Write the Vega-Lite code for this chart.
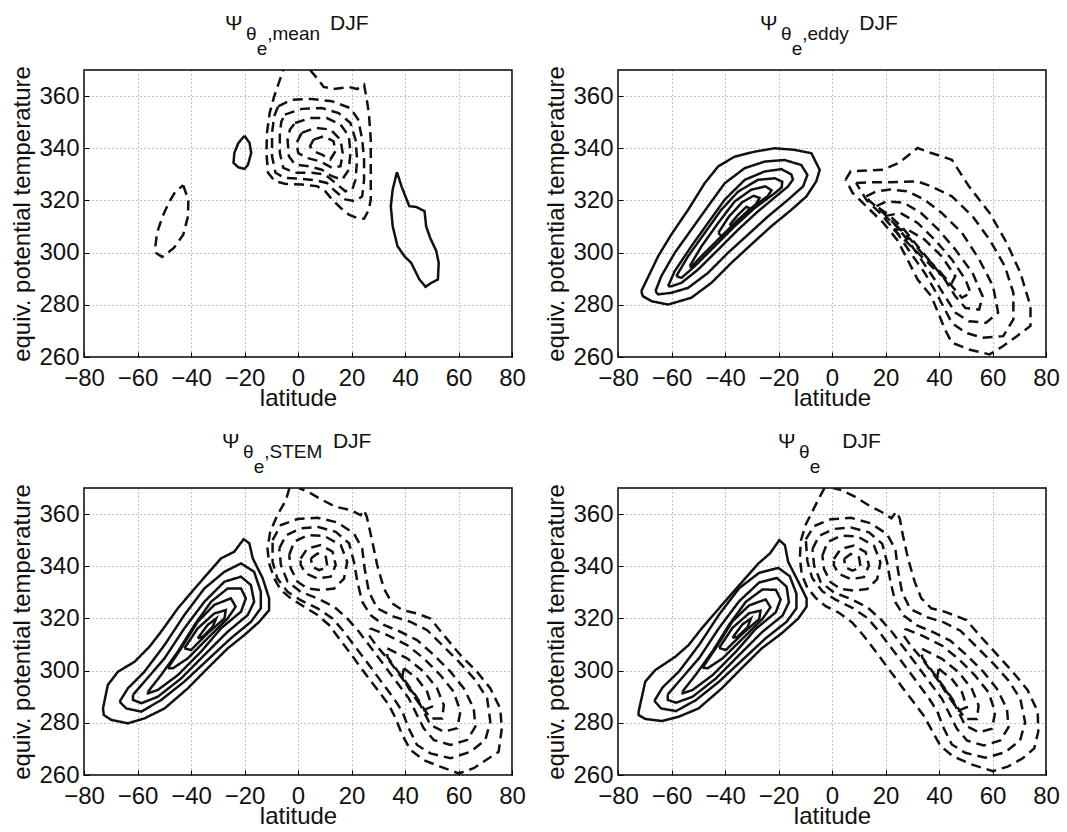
{
"$schema": "https://vega.github.io/schema/vega-lite/v6.json",
"padding": {"left": 10, "top": 11, "right": 0, "bottom": 0},
"columns": 2,
"spacing": {"row": 131, "column": 106},
"bounds": "flush",
"datasets": {
"p1": [
{"c":1,"s":"n","x":-42.9,"y":325.8},{"c":1,"s":"n","x":-41.0,"y":320.3},{"c":1,"s":"n","x":-41.1,"y":314.0},{"c":1,"s":"n","x":-42.9,"y":306.9},{"c":1,"s":"n","x":-46.4,"y":301.8},{"c":1,"s":"n","x":-50.8,"y":298.3},{"c":1,"s":"n","x":-53.1,"y":299.9},{"c":1,"s":"n","x":-53.3,"y":302.5},{"c":1,"s":"n","x":-52.7,"y":307.6},{"c":1,"s":"n","x":-50.6,"y":314.0},{"c":1,"s":"n","x":-48.3,"y":319.1},{"c":1,"s":"n","x":-45.8,"y":323.5},{"c":1,"s":"n","x":-42.9,"y":325.8},
{"c":2,"s":"p","x":-20.0,"y":344.8},{"c":2,"s":"p","x":-18.1,"y":342.0},{"c":2,"s":"p","x":-17.5,"y":338.2},{"c":2,"s":"p","x":-18.7,"y":333.7},{"c":2,"s":"p","x":-20.0,"y":332.1},{"c":2,"s":"p","x":-22.3,"y":332.7},{"c":2,"s":"p","x":-24.1,"y":334.4},{"c":2,"s":"p","x":-23.8,"y":338.2},{"c":2,"s":"p","x":-22.3,"y":342.0},{"c":2,"s":"p","x":-20.0,"y":344.8},
{"c":3,"s":"p","x":37.0,"y":330.9},{"c":3,"s":"p","x":38.7,"y":325.4},{"c":3,"s":"p","x":41.6,"y":317.8},{"c":3,"s":"p","x":44.2,"y":317.5},{"c":3,"s":"p","x":47.3,"y":315.9},{"c":3,"s":"p","x":47.9,"y":310.1},{"c":3,"s":"p","x":49.4,"y":305.7},{"c":3,"s":"p","x":51.7,"y":300.6},{"c":3,"s":"p","x":52.6,"y":296.1},{"c":3,"s":"p","x":52.3,"y":289.7},{"c":3,"s":"p","x":49.8,"y":288.4},{"c":3,"s":"p","x":47.7,"y":286.9},{"c":3,"s":"p","x":45.4,"y":289.7},{"c":3,"s":"p","x":42.3,"y":296.1},{"c":3,"s":"p","x":39.8,"y":298.6},{"c":3,"s":"p","x":37.2,"y":302.5},{"c":3,"s":"p","x":35.4,"y":310.1},{"c":3,"s":"p","x":34.7,"y":317.8},{"c":3,"s":"p","x":35.4,"y":324.2},{"c":3,"s":"p","x":37.0,"y":330.9},
{"c":4,"s":"n","x":4.5,"y":370.0},{"c":4,"s":"n","x":7.1,"y":366.9},{"c":4,"s":"n","x":9.6,"y":363.5},{"c":4,"s":"n","x":13.3,"y":362.7},{"c":4,"s":"n","x":19.0,"y":363.5},{"c":4,"s":"n","x":22.1,"y":362.7},{"c":4,"s":"n","x":24.7,"y":364.4},{"c":4,"s":"n","x":25.5,"y":359.9},{"c":4,"s":"n","x":26.5,"y":353.5},{"c":4,"s":"n","x":27.2,"y":343.3},{"c":4,"s":"n","x":27.2,"y":330.6},{"c":4,"s":"n","x":27.2,"y":320.4},{"c":4,"s":"n","x":26.5,"y":316.5},{"c":4,"s":"n","x":24.7,"y":313.0},{"c":4,"s":"n","x":22.1,"y":313.3},{"c":4,"s":"n","x":19.0,"y":314.6},{"c":4,"s":"n","x":15.9,"y":317.2},{"c":4,"s":"n","x":12.7,"y":320.4},{"c":4,"s":"n","x":10.2,"y":323.5},{"c":4,"s":"n","x":7.1,"y":325.5},{"c":4,"s":"n","x":1.4,"y":326.1},{"c":4,"s":"n","x":-4.9,"y":326.4},{"c":4,"s":"n","x":-8.7,"y":327.4},{"c":4,"s":"n","x":-11.2,"y":330.6},{"c":4,"s":"n","x":-11.8,"y":338.2},{"c":4,"s":"n","x":-11.6,"y":345.9},{"c":4,"s":"n","x":-10.6,"y":353.5},{"c":4,"s":"n","x":-8.9,"y":359.9},{"c":4,"s":"n","x":-7.4,"y":364.4},{"c":4,"s":"n","x":-5.5,"y":370.0},
{"c":5,"s":"n","x":-7.4,"y":356.1},{"c":5,"s":"n","x":-2.4,"y":358.6},{"c":5,"s":"n","x":5.2,"y":358.9},{"c":5,"s":"n","x":12.7,"y":358.0},{"c":5,"s":"n","x":19.6,"y":355.4},{"c":5,"s":"n","x":22.5,"y":351.0},{"c":5,"s":"n","x":24.0,"y":343.3},{"c":5,"s":"n","x":24.7,"y":335.7},{"c":5,"s":"n","x":24.7,"y":328.0},{"c":5,"s":"n","x":24.0,"y":321.6},{"c":5,"s":"n","x":21.5,"y":319.7},{"c":5,"s":"n","x":17.7,"y":320.4},{"c":5,"s":"n","x":14.0,"y":323.5},{"c":5,"s":"n","x":10.8,"y":326.7},{"c":5,"s":"n","x":6.4,"y":327.8},{"c":5,"s":"n","x":0.1,"y":328.4},{"c":5,"s":"n","x":-4.9,"y":328.6},{"c":5,"s":"n","x":-8.4,"y":330.6},{"c":5,"s":"n","x":-9.7,"y":336.9},{"c":5,"s":"n","x":-9.7,"y":345.9},{"c":5,"s":"n","x":-8.9,"y":352.3},{"c":5,"s":"n","x":-7.4,"y":356.1},
{"c":6,"s":"n","x":-4.9,"y":352.9},{"c":6,"s":"n","x":1.4,"y":355.1},{"c":6,"s":"n","x":8.9,"y":355.4},{"c":6,"s":"n","x":15.2,"y":353.5},{"c":6,"s":"n","x":19.6,"y":349.7},{"c":6,"s":"n","x":21.5,"y":343.3},{"c":6,"s":"n","x":22.1,"y":335.7},{"c":6,"s":"n","x":21.5,"y":328.0},{"c":6,"s":"n","x":20.3,"y":324.2},{"c":6,"s":"n","x":17.7,"y":323.5},{"c":6,"s":"n","x":14.0,"y":326.7},{"c":6,"s":"n","x":10.2,"y":329.9},{"c":6,"s":"n","x":5.2,"y":330.6},{"c":6,"s":"n","x":-1.1,"y":330.6},{"c":6,"s":"n","x":-5.5,"y":332.5},{"c":6,"s":"n","x":-6.8,"y":338.2},{"c":6,"s":"n","x":-6.8,"y":345.9},{"c":6,"s":"n","x":-6.2,"y":350.3},{"c":6,"s":"n","x":-4.9,"y":352.9},
{"c":7,"s":"n","x":-1.1,"y":349.7},{"c":7,"s":"n","x":4.5,"y":351.6},{"c":7,"s":"n","x":10.8,"y":351.6},{"c":7,"s":"n","x":15.9,"y":349.1},{"c":7,"s":"n","x":19.0,"y":344.6},{"c":7,"s":"n","x":19.6,"y":338.2},{"c":7,"s":"n","x":19.0,"y":331.8},{"c":7,"s":"n","x":16.5,"y":328.0},{"c":7,"s":"n","x":12.7,"y":329.3},{"c":7,"s":"n","x":8.9,"y":331.8},{"c":7,"s":"n","x":3.9,"y":333.1},{"c":7,"s":"n","x":-1.1,"y":333.8},{"c":7,"s":"n","x":-3.4,"y":336.9},{"c":7,"s":"n","x":-3.9,"y":343.3},{"c":7,"s":"n","x":-3.0,"y":347.2},{"c":7,"s":"n","x":-1.1,"y":349.7},
{"c":8,"s":"n","x":1.4,"y":345.9},{"c":8,"s":"n","x":6.4,"y":347.8},{"c":8,"s":"n","x":12.1,"y":347.2},{"c":8,"s":"n","x":15.9,"y":343.3},{"c":8,"s":"n","x":16.7,"y":338.2},{"c":8,"s":"n","x":15.9,"y":333.1},{"c":8,"s":"n","x":12.7,"y":332.5},{"c":8,"s":"n","x":8.3,"y":335.0},{"c":8,"s":"n","x":3.3,"y":336.3},{"c":8,"s":"n","x":0.1,"y":338.2},{"c":8,"s":"n","x":-0.6,"y":342.0},{"c":8,"s":"n","x":1.4,"y":345.9},
{"c":9,"s":"n","x":5.8,"y":343.3},{"c":9,"s":"n","x":9.6,"y":344.6},{"c":9,"s":"n","x":13.3,"y":342.7},{"c":9,"s":"n","x":14.0,"y":338.9},{"c":9,"s":"n","x":12.1,"y":335.7},{"c":9,"s":"n","x":8.9,"y":337.6},{"c":9,"s":"n","x":5.8,"y":338.9},{"c":9,"s":"n","x":4.5,"y":340.8},{"c":9,"s":"n","x":5.8,"y":343.3}
],
"p2": [
{"c":1,"s":"p","x":-71.3,"y":285.2},{"c":1,"s":"p","x":-69.8,"y":288.4},{"c":1,"s":"p","x":-65.0,"y":298.6},{"c":1,"s":"p","x":-60.1,"y":306.9},{"c":1,"s":"p","x":-53.8,"y":316.4},{"c":1,"s":"p","x":-47.6,"y":326.6},{"c":1,"s":"p","x":-42.6,"y":333.0},{"c":1,"s":"p","x":-36.4,"y":336.8},{"c":1,"s":"p","x":-28.9,"y":338.7},{"c":1,"s":"p","x":-21.4,"y":340.0},{"c":1,"s":"p","x":-14.0,"y":339.4},{"c":1,"s":"p","x":-7.7,"y":338.1},{"c":1,"s":"p","x":-4.6,"y":331.7},{"c":1,"s":"p","x":-5.9,"y":327.3},{"c":1,"s":"p","x":-9.6,"y":321.5},{"c":1,"s":"p","x":-15.2,"y":316.4},{"c":1,"s":"p","x":-22.7,"y":310.1},{"c":1,"s":"p","x":-30.2,"y":303.1},{"c":1,"s":"p","x":-37.6,"y":296.1},{"c":1,"s":"p","x":-45.1,"y":288.4},{"c":1,"s":"p","x":-52.6,"y":282.7},{"c":1,"s":"p","x":-61.3,"y":280.1},{"c":1,"s":"p","x":-67.5,"y":281.4},{"c":1,"s":"p","x":-70.7,"y":283.3},{"c":1,"s":"p","x":-71.3,"y":285.2},
{"c":2,"s":"p","x":-66.0,"y":285.2},{"c":2,"s":"p","x":-63.8,"y":291.0},{"c":2,"s":"p","x":-58.8,"y":299.9},{"c":2,"s":"p","x":-52.6,"y":308.8},{"c":2,"s":"p","x":-46.4,"y":317.7},{"c":2,"s":"p","x":-40.1,"y":326.6},{"c":2,"s":"p","x":-32.6,"y":332.4},{"c":2,"s":"p","x":-25.2,"y":334.9},{"c":2,"s":"p","x":-17.7,"y":335.5},{"c":2,"s":"p","x":-11.5,"y":333.6},{"c":2,"s":"p","x":-9.2,"y":329.8},{"c":2,"s":"p","x":-10.8,"y":325.4},{"c":2,"s":"p","x":-16.4,"y":320.3},{"c":2,"s":"p","x":-23.9,"y":313.9},{"c":2,"s":"p","x":-31.4,"y":306.9},{"c":2,"s":"p","x":-38.9,"y":299.9},{"c":2,"s":"p","x":-46.4,"y":292.2},{"c":2,"s":"p","x":-53.8,"y":286.5},{"c":2,"s":"p","x":-60.1,"y":284.6},{"c":2,"s":"p","x":-65.0,"y":284.0},{"c":2,"s":"p","x":-66.0,"y":285.2},
{"c":3,"s":"p","x":-61.3,"y":287.1},{"c":3,"s":"p","x":-58.8,"y":292.9},{"c":3,"s":"p","x":-52.6,"y":302.4},{"c":3,"s":"p","x":-46.4,"y":311.3},{"c":3,"s":"p","x":-40.1,"y":320.3},{"c":3,"s":"p","x":-32.6,"y":327.9},{"c":3,"s":"p","x":-25.2,"y":331.1},{"c":3,"s":"p","x":-18.9,"y":332.0},{"c":3,"s":"p","x":-15.2,"y":330.0},{"c":3,"s":"p","x":-14.6,"y":328.0},{"c":3,"s":"p","x":-16.5,"y":325.3},{"c":3,"s":"p","x":-20.2,"y":322.2},{"c":3,"s":"p","x":-27.7,"y":315.8},{"c":3,"s":"p","x":-35.1,"y":308.8},{"c":3,"s":"p","x":-42.6,"y":301.1},{"c":3,"s":"p","x":-50.1,"y":293.5},{"c":3,"s":"p","x":-56.3,"y":288.4},{"c":3,"s":"p","x":-60.1,"y":287.1},{"c":3,"s":"p","x":-61.3,"y":287.1},
{"c":4,"s":"p","x":-58.2,"y":291.0},{"c":4,"s":"p","x":-53.8,"y":298.6},{"c":4,"s":"p","x":-47.6,"y":307.5},{"c":4,"s":"p","x":-41.4,"y":316.4},{"c":4,"s":"p","x":-35.1,"y":323.4},{"c":4,"s":"p","x":-27.7,"y":327.9},{"c":4,"s":"p","x":-21.4,"y":328.5},{"c":4,"s":"p","x":-18.6,"y":327.2},{"c":4,"s":"p","x":-18.8,"y":325.0},{"c":4,"s":"p","x":-21.4,"y":322.8},{"c":4,"s":"p","x":-28.9,"y":317.1},{"c":4,"s":"p","x":-36.4,"y":310.1},{"c":4,"s":"p","x":-43.9,"y":302.4},{"c":4,"s":"p","x":-51.3,"y":294.8},{"c":4,"s":"p","x":-56.3,"y":290.3},{"c":4,"s":"p","x":-58.2,"y":291.0},
{"c":5,"s":"p","x":-53.2,"y":294.8},{"c":5,"s":"p","x":-48.8,"y":302.4},{"c":5,"s":"p","x":-42.6,"y":311.3},{"c":5,"s":"p","x":-36.4,"y":319.6},{"c":5,"s":"p","x":-30.2,"y":324.1},{"c":5,"s":"p","x":-24.9,"y":325.4},{"c":5,"s":"p","x":-22.6,"y":323.9},{"c":5,"s":"p","x":-24.1,"y":321.6},{"c":5,"s":"p","x":-27.7,"y":319.0},{"c":5,"s":"p","x":-35.1,"y":312.6},{"c":5,"s":"p","x":-42.6,"y":305.0},{"c":5,"s":"p","x":-50.1,"y":297.3},{"c":5,"s":"p","x":-52.6,"y":294.4},{"c":5,"s":"p","x":-53.2,"y":294.8},
{"c":6,"s":"p","x":-42.5,"y":307.6},{"c":6,"s":"p","x":-38.6,"y":313.7},{"c":6,"s":"p","x":-33.6,"y":319.3},{"c":6,"s":"p","x":-29.3,"y":321.8},{"c":6,"s":"p","x":-27.1,"y":321.0},{"c":6,"s":"p","x":-28.4,"y":318.6},{"c":6,"s":"p","x":-32.4,"y":315.1},{"c":6,"s":"p","x":-37.4,"y":310.1},{"c":6,"s":"p","x":-41.1,"y":306.1},{"c":6,"s":"p","x":-42.5,"y":307.6},
{"c":7,"s":"p","x":-38.3,"y":310.6},{"c":7,"s":"p","x":-35.1,"y":314.5},{"c":7,"s":"p","x":-32.0,"y":317.6},{"c":7,"s":"p","x":-30.8,"y":317.0},{"c":7,"s":"p","x":-32.8,"y":314.0},{"c":7,"s":"p","x":-36.5,"y":310.4},{"c":7,"s":"p","x":-38.3,"y":310.6},
{"c":8,"s":"n","x":5.1,"y":328.0},{"c":8,"s":"n","x":7.0,"y":331.2},{"c":8,"s":"n","x":19.2,"y":331.8},{"c":8,"s":"n","x":25.0,"y":334.4},{"c":8,"s":"n","x":32.0,"y":340.1},{"c":8,"s":"n","x":37.1,"y":338.2},{"c":8,"s":"n","x":44.8,"y":335.6},{"c":8,"s":"n","x":51.2,"y":325.4},{"c":8,"s":"n","x":58.9,"y":315.2},{"c":8,"s":"n","x":65.3,"y":303.8},{"c":8,"s":"n","x":70.4,"y":292.3},{"c":8,"s":"n","x":74.2,"y":279.5},{"c":8,"s":"n","x":74.2,"y":271.9},{"c":8,"s":"n","x":69.1,"y":268.0},{"c":8,"s":"n","x":64.0,"y":264.2},{"c":8,"s":"n","x":58.9,"y":261.0},{"c":8,"s":"n","x":51.2,"y":262.9},{"c":8,"s":"n","x":44.8,"y":265.5},{"c":8,"s":"n","x":42.2,"y":270.6},{"c":8,"s":"n","x":39.7,"y":277.0},{"c":8,"s":"n","x":37.1,"y":283.3},{"c":8,"s":"n","x":32.0,"y":289.7},{"c":8,"s":"n","x":28.2,"y":297.4},{"c":8,"s":"n","x":24.3,"y":305.0},{"c":8,"s":"n","x":19.2,"y":311.4},{"c":8,"s":"n","x":12.8,"y":317.8},{"c":8,"s":"n","x":7.7,"y":322.9},{"c":8,"s":"n","x":5.1,"y":328.0},
{"c":9,"s":"n","x":9.0,"y":326.7},{"c":9,"s":"n","x":15.4,"y":327.0},{"c":9,"s":"n","x":21.8,"y":327.0},{"c":9,"s":"n","x":32.0,"y":327.3},{"c":9,"s":"n","x":37.1,"y":325.4},{"c":9,"s":"n","x":44.8,"y":321.6},{"c":9,"s":"n","x":52.5,"y":314.0},{"c":9,"s":"n","x":58.9,"y":305.0},{"c":9,"s":"n","x":64.6,"y":294.8},{"c":9,"s":"n","x":67.8,"y":284.6},{"c":9,"s":"n","x":67.8,"y":274.4},{"c":9,"s":"n","x":64.0,"y":268.0},{"c":9,"s":"n","x":56.3,"y":267.4},{"c":9,"s":"n","x":49.9,"y":269.3},{"c":9,"s":"n","x":44.8,"y":273.1},{"c":9,"s":"n","x":42.2,"y":278.2},{"c":9,"s":"n","x":39.0,"y":284.6},{"c":9,"s":"n","x":34.6,"y":292.3},{"c":9,"s":"n","x":29.4,"y":299.9},{"c":9,"s":"n","x":24.3,"y":307.6},{"c":9,"s":"n","x":17.9,"y":315.2},{"c":9,"s":"n","x":12.8,"y":320.3},{"c":9,"s":"n","x":9.0,"y":326.7},
{"c":10,"s":"n","x":12.8,"y":321.6},{"c":10,"s":"n","x":16.6,"y":323.5},{"c":10,"s":"n","x":21.8,"y":324.2},{"c":10,"s":"n","x":28.2,"y":323.5},{"c":10,"s":"n","x":34.6,"y":320.3},{"c":10,"s":"n","x":41.0,"y":315.2},{"c":10,"s":"n","x":48.6,"y":307.6},{"c":10,"s":"n","x":55.0,"y":297.4},{"c":10,"s":"n","x":60.2,"y":287.2},{"c":10,"s":"n","x":62.1,"y":277.0},{"c":10,"s":"n","x":57.6,"y":273.1},{"c":10,"s":"n","x":51.2,"y":273.7},{"c":10,"s":"n","x":46.1,"y":277.0},{"c":10,"s":"n","x":42.2,"y":283.3},{"c":10,"s":"n","x":38.4,"y":289.7},{"c":10,"s":"n","x":33.3,"y":297.4},{"c":10,"s":"n","x":28.2,"y":305.0},{"c":10,"s":"n","x":23.0,"y":311.4},{"c":10,"s":"n","x":17.9,"y":316.5},{"c":10,"s":"n","x":14.1,"y":319.7},{"c":10,"s":"n","x":12.8,"y":321.6},
{"c":11,"s":"n","x":16.6,"y":317.8},{"c":11,"s":"n","x":20.5,"y":319.7},{"c":11,"s":"n","x":26.9,"y":319.1},{"c":11,"s":"n","x":33.3,"y":315.2},{"c":11,"s":"n","x":39.7,"y":308.9},{"c":11,"s":"n","x":46.1,"y":301.2},{"c":11,"s":"n","x":52.5,"y":292.3},{"c":11,"s":"n","x":56.3,"y":283.3},{"c":11,"s":"n","x":55.0,"y":278.2},{"c":11,"s":"n","x":49.9,"y":278.8},{"c":11,"s":"n","x":46.1,"y":283.3},{"c":11,"s":"n","x":42.2,"y":289.7},{"c":11,"s":"n","x":37.1,"y":296.1},{"c":11,"s":"n","x":32.0,"y":302.5},{"c":11,"s":"n","x":26.9,"y":308.9},{"c":11,"s":"n","x":21.8,"y":314.0},{"c":11,"s":"n","x":16.6,"y":317.8},
{"c":12,"s":"n","x":19.8,"y":314.0},{"c":12,"s":"n","x":25.6,"y":315.2},{"c":12,"s":"n","x":32.0,"y":311.4},{"c":12,"s":"n","x":38.4,"y":305.0},{"c":12,"s":"n","x":44.8,"y":297.4},{"c":12,"s":"n","x":49.9,"y":289.7},{"c":12,"s":"n","x":51.8,"y":284.6},{"c":12,"s":"n","x":48.6,"y":282.7},{"c":12,"s":"n","x":44.8,"y":287.2},{"c":12,"s":"n","x":39.7,"y":293.5},{"c":12,"s":"n","x":34.6,"y":298.6},{"c":12,"s":"n","x":29.4,"y":305.0},{"c":12,"s":"n","x":24.3,"y":310.1},{"c":12,"s":"n","x":19.8,"y":314.0},
{"c":13,"s":"n","x":23.0,"y":308.9},{"c":13,"s":"n","x":28.2,"y":308.9},{"c":13,"s":"n","x":34.6,"y":305.0},{"c":13,"s":"n","x":41.0,"y":298.6},{"c":13,"s":"n","x":46.1,"y":291.0},{"c":13,"s":"n","x":44.8,"y":288.4},{"c":13,"s":"n","x":39.7,"y":292.3},{"c":13,"s":"n","x":34.6,"y":297.4},{"c":13,"s":"n","x":28.2,"y":303.8},{"c":13,"s":"n","x":23.0,"y":308.9}
],
"p3": [
{"c":1,"s":"p","x":-72.9,"y":285.5},{"c":1,"s":"p","x":-71.1,"y":294.5},{"c":1,"s":"p","x":-67.3,"y":299.6},{"c":1,"s":"p","x":-61.1,"y":303.4},{"c":1,"s":"p","x":-55.5,"y":309.2},{"c":1,"s":"p","x":-51.2,"y":314.9},{"c":1,"s":"p","x":-44.9,"y":323.9},{"c":1,"s":"p","x":-37.5,"y":332.8},{"c":1,"s":"p","x":-28.8,"y":343.0},{"c":1,"s":"p","x":-23.8,"y":345.6},{"c":1,"s":"p","x":-20.3,"y":350.4},{"c":1,"s":"p","x":-18.2,"y":348.8},{"c":1,"s":"p","x":-16.9,"y":343.0},{"c":1,"s":"p","x":-13.2,"y":335.4},{"c":1,"s":"p","x":-10.8,"y":327.7},{"c":1,"s":"p","x":-10.8,"y":323.2},{"c":1,"s":"p","x":-14.5,"y":318.7},{"c":1,"s":"p","x":-20.1,"y":313.6},{"c":1,"s":"p","x":-26.3,"y":308.5},{"c":1,"s":"p","x":-33.8,"y":300.9},{"c":1,"s":"p","x":-41.2,"y":293.2},{"c":1,"s":"p","x":-49.9,"y":285.5},{"c":1,"s":"p","x":-57.4,"y":281.7},{"c":1,"s":"p","x":-63.6,"y":279.8},{"c":1,"s":"p","x":-69.8,"y":281.1},{"c":1,"s":"p","x":-72.6,"y":283.0},{"c":1,"s":"p","x":-72.9,"y":285.5},
{"c":2,"s":"p","x":-66.7,"y":288.1},{"c":2,"s":"p","x":-63.6,"y":293.2},{"c":2,"s":"p","x":-57.4,"y":299.6},{"c":2,"s":"p","x":-49.9,"y":309.8},{"c":2,"s":"p","x":-42.5,"y":321.3},{"c":2,"s":"p","x":-35.0,"y":331.5},{"c":2,"s":"p","x":-27.5,"y":337.9},{"c":2,"s":"p","x":-21.3,"y":341.1},{"c":2,"s":"p","x":-16.4,"y":337.9},{"c":2,"s":"p","x":-13.9,"y":330.2},{"c":2,"s":"p","x":-13.9,"y":323.9},{"c":2,"s":"p","x":-17.6,"y":318.7},{"c":2,"s":"p","x":-25.1,"y":312.4},{"c":2,"s":"p","x":-33.8,"y":304.1},{"c":2,"s":"p","x":-42.5,"y":295.8},{"c":2,"s":"p","x":-51.2,"y":288.7},{"c":2,"s":"p","x":-58.6,"y":284.3},{"c":2,"s":"p","x":-64.2,"y":285.5},{"c":2,"s":"p","x":-66.7,"y":288.1},
{"c":3,"s":"p","x":-61.7,"y":290.7},{"c":3,"s":"p","x":-57.4,"y":295.8},{"c":3,"s":"p","x":-49.9,"y":304.7},{"c":3,"s":"p","x":-42.5,"y":316.2},{"c":3,"s":"p","x":-35.0,"y":326.4},{"c":3,"s":"p","x":-27.5,"y":334.1},{"c":3,"s":"p","x":-21.3,"y":336.0},{"c":3,"s":"p","x":-17.6,"y":332.8},{"c":3,"s":"p","x":-16.4,"y":326.4},{"c":3,"s":"p","x":-18.8,"y":321.3},{"c":3,"s":"p","x":-26.3,"y":314.9},{"c":3,"s":"p","x":-35.0,"y":306.0},{"c":3,"s":"p","x":-43.7,"y":297.0},{"c":3,"s":"p","x":-52.4,"y":290.0},{"c":3,"s":"p","x":-58.6,"y":287.5},{"c":3,"s":"p","x":-61.7,"y":288.8},{"c":3,"s":"p","x":-61.7,"y":290.7},
{"c":4,"s":"p","x":-56.1,"y":291.9},{"c":4,"s":"p","x":-51.2,"y":298.3},{"c":4,"s":"p","x":-44.9,"y":307.3},{"c":4,"s":"p","x":-38.7,"y":317.5},{"c":4,"s":"p","x":-32.5,"y":326.4},{"c":4,"s":"p","x":-26.3,"y":331.5},{"c":4,"s":"p","x":-21.3,"y":331.5},{"c":4,"s":"p","x":-19.5,"y":327.7},{"c":4,"s":"p","x":-21.3,"y":322.6},{"c":4,"s":"p","x":-28.8,"y":316.2},{"c":4,"s":"p","x":-36.2,"y":307.3},{"c":4,"s":"p","x":-44.9,"y":298.3},{"c":4,"s":"p","x":-52.4,"y":292.6},{"c":4,"s":"p","x":-56.1,"y":291.3},{"c":4,"s":"p","x":-56.1,"y":291.9},
{"c":5,"s":"p","x":-48.7,"y":300.9},{"c":5,"s":"p","x":-43.7,"y":308.5},{"c":5,"s":"p","x":-37.5,"y":318.7},{"c":5,"s":"p","x":-31.3,"y":325.2},{"c":5,"s":"p","x":-25.1,"y":327.7},{"c":5,"s":"p","x":-23.3,"y":324.5},{"c":5,"s":"p","x":-26.3,"y":320.0},{"c":5,"s":"p","x":-33.8,"y":312.4},{"c":5,"s":"p","x":-41.2,"y":304.7},{"c":5,"s":"p","x":-46.8,"y":300.9},{"c":5,"s":"p","x":-48.7,"y":300.9},
{"c":6,"s":"p","x":-42.5,"y":308.5},{"c":6,"s":"p","x":-37.5,"y":316.2},{"c":6,"s":"p","x":-31.3,"y":321.9},{"c":6,"s":"p","x":-27.0,"y":323.2},{"c":6,"s":"p","x":-27.5,"y":320.0},{"c":6,"s":"p","x":-33.8,"y":314.3},{"c":6,"s":"p","x":-40.0,"y":307.9},{"c":6,"s":"p","x":-42.5,"y":308.5},
{"c":7,"s":"p","x":-37.5,"y":312.4},{"c":7,"s":"p","x":-33.8,"y":317.5},{"c":7,"s":"p","x":-30.6,"y":320.0},{"c":7,"s":"p","x":-31.9,"y":316.8},{"c":7,"s":"p","x":-35.6,"y":313.0},{"c":7,"s":"p","x":-37.5,"y":312.4},
{"c":8,"s":"n","x":-3.2,"y":370.0},{"c":8,"s":"n","x":-4.5,"y":365.4},{"c":8,"s":"n","x":-7.7,"y":359.6},{"c":8,"s":"n","x":-10.4,"y":353.2},{"c":8,"s":"n","x":-11.4,"y":346.8},{"c":8,"s":"n","x":-10.8,"y":341.1},{"c":8,"s":"n","x":-8.9,"y":335.4},{"c":8,"s":"n","x":-6.4,"y":330.9},{"c":8,"s":"n","x":-2.7,"y":327.7},{"c":8,"s":"n","x":2.3,"y":324.5},{"c":8,"s":"n","x":7.3,"y":321.3},{"c":8,"s":"n","x":11.6,"y":317.5},{"c":8,"s":"n","x":15.3,"y":312.4},{"c":8,"s":"n","x":19.1,"y":307.3},{"c":8,"s":"n","x":22.8,"y":302.1},{"c":8,"s":"n","x":26.5,"y":297.0},{"c":8,"s":"n","x":30.3,"y":291.9},{"c":8,"s":"n","x":34.0,"y":286.8},{"c":8,"s":"n","x":36.5,"y":281.7},{"c":8,"s":"n","x":39.0,"y":275.3},{"c":8,"s":"n","x":42.1,"y":269.6},{"c":8,"s":"n","x":47.0,"y":265.7},{"c":8,"s":"n","x":53.2,"y":263.2},{"c":8,"s":"n","x":60.1,"y":260.6},{"c":8,"s":"n","x":65.7,"y":262.6},{"c":8,"s":"n","x":71.3,"y":266.4},{"c":8,"s":"n","x":75.0,"y":268.9},{"c":8,"s":"n","x":76.2,"y":277.9},{"c":8,"s":"n","x":75.6,"y":285.5},{"c":8,"s":"n","x":71.9,"y":293.2},{"c":8,"s":"n","x":66.9,"y":299.6},{"c":8,"s":"n","x":60.7,"y":306.0},{"c":8,"s":"n","x":54.5,"y":313.6},{"c":8,"s":"n","x":49.5,"y":320.0},{"c":8,"s":"n","x":44.5,"y":321.9},{"c":8,"s":"n","x":39.0,"y":323.2},{"c":8,"s":"n","x":35.2,"y":325.8},{"c":8,"s":"n","x":32.1,"y":331.5},{"c":8,"s":"n","x":29.6,"y":340.5},{"c":8,"s":"n","x":27.8,"y":349.4},{"c":8,"s":"n","x":25.7,"y":359.0},{"c":8,"s":"n","x":24.7,"y":361.5},{"c":8,"s":"n","x":23.4,"y":359.6},{"c":8,"s":"n","x":19.7,"y":361.5},{"c":8,"s":"n","x":14.1,"y":362.8},{"c":8,"s":"n","x":9.1,"y":365.4},{"c":8,"s":"n","x":4.8,"y":367.9},{"c":8,"s":"n","x":0.4,"y":370.0},
{"c":9,"s":"n","x":-9.5,"y":350.0},{"c":9,"s":"n","x":-6.4,"y":355.8},{"c":9,"s":"n","x":-0.2,"y":358.1},{"c":9,"s":"n","x":7.3,"y":358.6},{"c":9,"s":"n","x":14.7,"y":356.8},{"c":9,"s":"n","x":20.9,"y":352.6},{"c":9,"s":"n","x":24.0,"y":346.8},{"c":9,"s":"n","x":24.9,"y":339.2},{"c":9,"s":"n","x":26.5,"y":330.2},{"c":9,"s":"n","x":29.6,"y":323.9},{"c":9,"s":"n","x":35.8,"y":320.7},{"c":9,"s":"n","x":42.1,"y":318.7},{"c":9,"s":"n","x":48.3,"y":315.5},{"c":9,"s":"n","x":54.5,"y":309.2},{"c":9,"s":"n","x":60.7,"y":302.8},{"c":9,"s":"n","x":66.3,"y":296.4},{"c":9,"s":"n","x":70.7,"y":289.4},{"c":9,"s":"n","x":71.9,"y":280.4},{"c":9,"s":"n","x":70.0,"y":273.4},{"c":9,"s":"n","x":64.4,"y":268.9},{"c":9,"s":"n","x":57.0,"y":266.4},{"c":9,"s":"n","x":49.5,"y":268.3},{"c":9,"s":"n","x":44.5,"y":271.5},{"c":9,"s":"n","x":41.4,"y":277.9},{"c":9,"s":"n","x":39.0,"y":284.3},{"c":9,"s":"n","x":35.8,"y":289.4},{"c":9,"s":"n","x":32.1,"y":294.5},{"c":9,"s":"n","x":28.4,"y":299.6},{"c":9,"s":"n","x":24.7,"y":304.7},{"c":9,"s":"n","x":20.9,"y":309.8},{"c":9,"s":"n","x":17.2,"y":314.9},{"c":9,"s":"n","x":12.9,"y":320.0},{"c":9,"s":"n","x":7.3,"y":323.9},{"c":9,"s":"n","x":1.0,"y":327.0},{"c":9,"s":"n","x":-3.9,"y":330.2},{"c":9,"s":"n","x":-7.7,"y":335.3},{"c":9,"s":"n","x":-9.5,"y":341.7},{"c":9,"s":"n","x":-9.5,"y":350.0},
{"c":10,"s":"n","x":-7.0,"y":346.8},{"c":10,"s":"n","x":-4.5,"y":351.9},{"c":10,"s":"n","x":1.0,"y":354.5},{"c":10,"s":"n","x":7.3,"y":355.1},{"c":10,"s":"n","x":14.1,"y":353.2},{"c":10,"s":"n","x":19.1,"y":348.8},{"c":10,"s":"n","x":20.9,"y":341.7},{"c":10,"s":"n","x":22.2,"y":334.1},{"c":10,"s":"n","x":24.0,"y":326.4},{"c":10,"s":"n","x":27.1,"y":321.3},{"c":10,"s":"n","x":32.1,"y":317.5},{"c":10,"s":"n","x":38.3,"y":314.9},{"c":10,"s":"n","x":44.5,"y":311.7},{"c":10,"s":"n","x":50.8,"y":306.0},{"c":10,"s":"n","x":57.0,"y":299.6},{"c":10,"s":"n","x":62.0,"y":293.2},{"c":10,"s":"n","x":65.7,"y":285.5},{"c":10,"s":"n","x":66.3,"y":278.5},{"c":10,"s":"n","x":63.2,"y":273.4},{"c":10,"s":"n","x":57.0,"y":271.5},{"c":10,"s":"n","x":50.8,"y":273.4},{"c":10,"s":"n","x":47.0,"y":277.9},{"c":10,"s":"n","x":44.5,"y":283.0},{"c":10,"s":"n","x":41.4,"y":289.4},{"c":10,"s":"n","x":37.7,"y":294.5},{"c":10,"s":"n","x":34.0,"y":299.6},{"c":10,"s":"n","x":30.3,"y":304.7},{"c":10,"s":"n","x":26.5,"y":309.8},{"c":10,"s":"n","x":22.8,"y":314.9},{"c":10,"s":"n","x":18.4,"y":320.0},{"c":10,"s":"n","x":13.5,"y":324.5},{"c":10,"s":"n","x":7.3,"y":327.7},{"c":10,"s":"n","x":1.0,"y":330.2},{"c":10,"s":"n","x":-3.9,"y":334.1},{"c":10,"s":"n","x":-6.4,"y":340.5},{"c":10,"s":"n","x":-7.0,"y":346.8},
{"c":11,"s":"n","x":-3.3,"y":344.3},{"c":11,"s":"n","x":-1.4,"y":349.4},{"c":11,"s":"n","x":3.5,"y":351.9},{"c":11,"s":"n","x":9.7,"y":351.7},{"c":11,"s":"n","x":16.0,"y":348.1},{"c":11,"s":"n","x":18.4,"y":341.7},{"c":11,"s":"n","x":17.2,"y":335.3},{"c":11,"s":"n","x":13.5,"y":331.5},{"c":11,"s":"n","x":8.5,"y":330.9},{"c":11,"s":"n","x":3.5,"y":331.5},{"c":11,"s":"n","x":-0.2,"y":334.1},{"c":11,"s":"n","x":-2.7,"y":339.2},{"c":11,"s":"n","x":-3.3,"y":344.3},
{"c":12,"s":"n","x":1.0,"y":343.0},{"c":12,"s":"n","x":3.5,"y":346.8},{"c":12,"s":"n","x":8.5,"y":348.1},{"c":12,"s":"n","x":12.9,"y":345.6},{"c":12,"s":"n","x":14.1,"y":340.5},{"c":12,"s":"n","x":12.2,"y":336.0},{"c":12,"s":"n","x":7.3,"y":335.3},{"c":12,"s":"n","x":2.9,"y":337.3},{"c":12,"s":"n","x":1.0,"y":340.5},{"c":12,"s":"n","x":1.0,"y":343.0},
{"c":13,"s":"n","x":4.8,"y":343.0},{"c":13,"s":"n","x":7.3,"y":344.9},{"c":13,"s":"n","x":10.4,"y":343.6},{"c":13,"s":"n","x":11.0,"y":339.8},{"c":13,"s":"n","x":7.9,"y":338.5},{"c":13,"s":"n","x":5.4,"y":339.8},{"c":13,"s":"n","x":4.8,"y":343.0},
{"c":14,"s":"n","x":27.1,"y":316.2},{"c":14,"s":"n","x":33.4,"y":313.6},{"c":14,"s":"n","x":40.8,"y":309.8},{"c":14,"s":"n","x":47.0,"y":304.7},{"c":14,"s":"n","x":53.2,"y":298.3},{"c":14,"s":"n","x":58.2,"y":291.9},{"c":14,"s":"n","x":60.7,"y":284.3},{"c":14,"s":"n","x":59.5,"y":277.9},{"c":14,"s":"n","x":54.5,"y":276.6},{"c":14,"s":"n","x":49.5,"y":279.2},{"c":14,"s":"n","x":47.0,"y":284.3},{"c":14,"s":"n","x":44.5,"y":289.4},{"c":14,"s":"n","x":40.8,"y":294.5},{"c":14,"s":"n","x":37.1,"y":299.6},{"c":14,"s":"n","x":33.4,"y":304.7},{"c":14,"s":"n","x":29.6,"y":309.2},{"c":14,"s":"n","x":26.5,"y":313.6},{"c":14,"s":"n","x":27.1,"y":316.2},
{"c":15,"s":"n","x":33.4,"y":308.5},{"c":15,"s":"n","x":40.8,"y":304.7},{"c":15,"s":"n","x":47.0,"y":299.6},{"c":15,"s":"n","x":52.0,"y":293.2},{"c":15,"s":"n","x":54.5,"y":286.8},{"c":15,"s":"n","x":53.9,"y":281.7},{"c":15,"s":"n","x":49.5,"y":281.7},{"c":15,"s":"n","x":47.0,"y":285.5},{"c":15,"s":"n","x":43.9,"y":290.6},{"c":15,"s":"n","x":40.2,"y":295.8},{"c":15,"s":"n","x":36.5,"y":300.9},{"c":15,"s":"n","x":33.4,"y":305.3},{"c":15,"s":"n","x":33.4,"y":308.5},
{"c":16,"s":"n","x":39.6,"y":300.9},{"c":16,"s":"n","x":44.5,"y":297.0},{"c":16,"s":"n","x":48.3,"y":291.9},{"c":16,"s":"n","x":50.1,"y":286.2},{"c":16,"s":"n","x":47.0,"y":284.9},{"c":16,"s":"n","x":43.9,"y":289.4},{"c":16,"s":"n","x":41.4,"y":293.2},{"c":16,"s":"n","x":39.0,"y":297.7},{"c":16,"s":"n","x":39.6,"y":300.9}
],
"p4": [
{"c":1,"s":"p","x":-72.3,"y":284.3},{"c":1,"s":"p","x":-69.8,"y":295.8},{"c":1,"s":"p","x":-66.1,"y":300.2},{"c":1,"s":"p","x":-58.6,"y":305.3},{"c":1,"s":"p","x":-53.6,"y":309.8},{"c":1,"s":"p","x":-48.7,"y":316.2},{"c":1,"s":"p","x":-41.2,"y":325.1},{"c":1,"s":"p","x":-32.5,"y":335.3},{"c":1,"s":"p","x":-27.5,"y":341.1},{"c":1,"s":"p","x":-23.2,"y":344.9},{"c":1,"s":"p","x":-19.7,"y":350.0},{"c":1,"s":"p","x":-17.6,"y":348.1},{"c":1,"s":"p","x":-16.4,"y":341.7},{"c":1,"s":"p","x":-13.2,"y":335.3},{"c":1,"s":"p","x":-9.5,"y":327.7},{"c":1,"s":"p","x":-9.5,"y":324.5},{"c":1,"s":"p","x":-12.6,"y":320.0},{"c":1,"s":"p","x":-18.8,"y":314.3},{"c":1,"s":"p","x":-26.3,"y":308.5},{"c":1,"s":"p","x":-33.8,"y":300.9},{"c":1,"s":"p","x":-41.2,"y":293.2},{"c":1,"s":"p","x":-49.9,"y":285.5},{"c":1,"s":"p","x":-57.4,"y":282.3},{"c":1,"s":"p","x":-63.6,"y":280.7},{"c":1,"s":"p","x":-69.8,"y":281.5},{"c":1,"s":"p","x":-72.3,"y":283.0},{"c":1,"s":"p","x":-72.3,"y":284.3},
{"c":2,"s":"p","x":-66.4,"y":288.4},{"c":2,"s":"p","x":-63.3,"y":293.6},{"c":2,"s":"p","x":-57.1,"y":299.8},{"c":2,"s":"p","x":-49.6,"y":310.0},{"c":2,"s":"p","x":-42.2,"y":321.5},{"c":2,"s":"p","x":-34.7,"y":331.6},{"c":2,"s":"p","x":-27.2,"y":337.5},{"c":2,"s":"p","x":-20.1,"y":339.4},{"c":2,"s":"p","x":-15.8,"y":336.2},{"c":2,"s":"p","x":-13.3,"y":329.5},{"c":2,"s":"p","x":-13.3,"y":323.9},{"c":2,"s":"p","x":-17.0,"y":318.7},{"c":2,"s":"p","x":-24.8,"y":312.4},{"c":2,"s":"p","x":-33.5,"y":304.1},{"c":2,"s":"p","x":-42.2,"y":295.8},{"c":2,"s":"p","x":-50.9,"y":288.7},{"c":2,"s":"p","x":-58.3,"y":284.5},{"c":2,"s":"p","x":-63.9,"y":285.5},{"c":2,"s":"p","x":-66.4,"y":288.4},
{"c":3,"s":"p","x":-61.4,"y":290.9},{"c":3,"s":"p","x":-57.1,"y":296.0},{"c":3,"s":"p","x":-49.6,"y":304.9},{"c":3,"s":"p","x":-42.2,"y":316.4},{"c":3,"s":"p","x":-34.7,"y":326.6},{"c":3,"s":"p","x":-27.2,"y":333.8},{"c":3,"s":"p","x":-20.6,"y":335.5},{"c":3,"s":"p","x":-17.0,"y":332.2},{"c":3,"s":"p","x":-16.1,"y":326.2},{"c":3,"s":"p","x":-18.5,"y":321.1},{"c":3,"s":"p","x":-26.0,"y":314.9},{"c":3,"s":"p","x":-34.7,"y":306.0},{"c":3,"s":"p","x":-43.4,"y":297.0},{"c":3,"s":"p","x":-52.1,"y":290.0},{"c":3,"s":"p","x":-58.3,"y":287.7},{"c":3,"s":"p","x":-61.4,"y":288.8},{"c":3,"s":"p","x":-61.4,"y":290.9},
{"c":4,"s":"p","x":-55.8,"y":292.1},{"c":4,"s":"p","x":-50.9,"y":298.5},{"c":4,"s":"p","x":-44.6,"y":307.5},{"c":4,"s":"p","x":-38.4,"y":317.7},{"c":4,"s":"p","x":-32.2,"y":326.4},{"c":4,"s":"p","x":-26.0,"y":331.1},{"c":4,"s":"p","x":-21.0,"y":331.0},{"c":4,"s":"p","x":-19.2,"y":327.3},{"c":4,"s":"p","x":-21.0,"y":322.4},{"c":4,"s":"p","x":-28.5,"y":316.0},{"c":4,"s":"p","x":-35.9,"y":307.3},{"c":4,"s":"p","x":-44.6,"y":298.3},{"c":4,"s":"p","x":-52.1,"y":292.6},{"c":4,"s":"p","x":-55.8,"y":291.3},{"c":4,"s":"p","x":-55.8,"y":292.1},
{"c":5,"s":"p","x":-48.4,"y":301.1},{"c":5,"s":"p","x":-43.4,"y":308.7},{"c":5,"s":"p","x":-37.2,"y":318.9},{"c":5,"s":"p","x":-31.0,"y":325.0},{"c":5,"s":"p","x":-24.8,"y":327.3},{"c":5,"s":"p","x":-23.0,"y":324.3},{"c":5,"s":"p","x":-26.0,"y":319.8},{"c":5,"s":"p","x":-33.5,"y":312.2},{"c":5,"s":"p","x":-40.9,"y":304.7},{"c":5,"s":"p","x":-46.5,"y":300.9},{"c":5,"s":"p","x":-48.4,"y":301.1},
{"c":6,"s":"p","x":-42.2,"y":308.7},{"c":6,"s":"p","x":-37.2,"y":316.4},{"c":6,"s":"p","x":-31.0,"y":322.0},{"c":6,"s":"p","x":-26.7,"y":323.0},{"c":6,"s":"p","x":-27.2,"y":319.8},{"c":6,"s":"p","x":-33.5,"y":314.1},{"c":6,"s":"p","x":-39.7,"y":307.9},{"c":6,"s":"p","x":-42.2,"y":308.7},
{"c":7,"s":"p","x":-37.2,"y":312.6},{"c":7,"s":"p","x":-33.5,"y":317.7},{"c":7,"s":"p","x":-30.3,"y":320.0},{"c":7,"s":"p","x":-31.6,"y":316.6},{"c":7,"s":"p","x":-35.3,"y":313.0},{"c":7,"s":"p","x":-37.2,"y":312.6},
{"c":8,"s":"n","x":-2.8,"y":370.0},{"c":8,"s":"n","x":-4.8,"y":366.2},{"c":8,"s":"n","x":-7.3,"y":361.1},{"c":8,"s":"n","x":-9.8,"y":356.0},{"c":8,"s":"n","x":-11.7,"y":349.6},{"c":8,"s":"n","x":-12.0,"y":343.2},{"c":8,"s":"n","x":-11.3,"y":336.8},{"c":8,"s":"n","x":-9.2,"y":331.7},{"c":8,"s":"n","x":-6.1,"y":327.9},{"c":8,"s":"n","x":-2.4,"y":324.7},{"c":8,"s":"n","x":2.6,"y":322.2},{"c":8,"s":"n","x":7.6,"y":318.4},{"c":8,"s":"n","x":11.9,"y":313.3},{"c":8,"s":"n","x":15.7,"y":308.2},{"c":8,"s":"n","x":19.4,"y":303.1},{"c":8,"s":"n","x":23.1,"y":298.0},{"c":8,"s":"n","x":26.8,"y":292.9},{"c":8,"s":"n","x":30.6,"y":287.8},{"c":8,"s":"n","x":34.3,"y":282.7},{"c":8,"s":"n","x":37.4,"y":277.0},{"c":8,"s":"n","x":40.5,"y":271.2},{"c":8,"s":"n","x":44.9,"y":267.4},{"c":8,"s":"n","x":51.7,"y":264.2},{"c":8,"s":"n","x":60.1,"y":261.5},{"c":8,"s":"n","x":65.7,"y":263.2},{"c":8,"s":"n","x":71.3,"y":266.4},{"c":8,"s":"n","x":75.6,"y":270.2},{"c":8,"s":"n","x":77.1,"y":276.6},{"c":8,"s":"n","x":76.9,"y":284.3},{"c":8,"s":"n","x":73.1,"y":292.6},{"c":8,"s":"n","x":67.5,"y":299.6},{"c":8,"s":"n","x":61.3,"y":306.6},{"c":8,"s":"n","x":55.1,"y":313.6},{"c":8,"s":"n","x":50.2,"y":319.4},{"c":8,"s":"n","x":47.0,"y":320.7},{"c":8,"s":"n","x":42.1,"y":322.6},{"c":8,"s":"n","x":37.1,"y":323.9},{"c":8,"s":"n","x":33.4,"y":327.7},{"c":8,"s":"n","x":30.9,"y":334.1},{"c":8,"s":"n","x":28.4,"y":343.0},{"c":8,"s":"n","x":26.5,"y":351.9},{"c":8,"s":"n","x":25.3,"y":358.4},{"c":8,"s":"n","x":24.0,"y":360.9},{"c":8,"s":"n","x":22.2,"y":358.4},{"c":8,"s":"n","x":18.4,"y":360.9},{"c":8,"s":"n","x":13.5,"y":363.5},{"c":8,"s":"n","x":8.5,"y":366.7},{"c":8,"s":"n","x":3.5,"y":369.2},{"c":8,"s":"n","x":0.4,"y":370.0},
{"c":9,"s":"n","x":-9.8,"y":350.3},{"c":9,"s":"n","x":-6.7,"y":355.4},{"c":9,"s":"n","x":-0.5,"y":358.0},{"c":9,"s":"n","x":7.0,"y":358.6},{"c":9,"s":"n","x":14.4,"y":356.5},{"c":9,"s":"n","x":20.6,"y":352.3},{"c":9,"s":"n","x":23.7,"y":346.5},{"c":9,"s":"n","x":24.6,"y":338.9},{"c":9,"s":"n","x":26.2,"y":330.0},{"c":9,"s":"n","x":29.3,"y":323.6},{"c":9,"s":"n","x":35.5,"y":320.5},{"c":9,"s":"n","x":41.8,"y":318.5},{"c":9,"s":"n","x":48.0,"y":315.3},{"c":9,"s":"n","x":54.2,"y":309.0},{"c":9,"s":"n","x":60.4,"y":302.6},{"c":9,"s":"n","x":66.0,"y":296.2},{"c":9,"s":"n","x":70.4,"y":289.2},{"c":9,"s":"n","x":72.2,"y":280.2},{"c":9,"s":"n","x":70.3,"y":273.2},{"c":9,"s":"n","x":64.7,"y":268.7},{"c":9,"s":"n","x":57.3,"y":266.6},{"c":9,"s":"n","x":49.8,"y":268.5},{"c":9,"s":"n","x":44.8,"y":271.7},{"c":9,"s":"n","x":41.7,"y":278.1},{"c":9,"s":"n","x":39.3,"y":284.5},{"c":9,"s":"n","x":36.1,"y":289.6},{"c":9,"s":"n","x":32.4,"y":294.7},{"c":9,"s":"n","x":28.7,"y":299.8},{"c":9,"s":"n","x":25.0,"y":304.9},{"c":9,"s":"n","x":21.2,"y":310.0},{"c":9,"s":"n","x":17.5,"y":315.1},{"c":9,"s":"n","x":13.2,"y":320.2},{"c":9,"s":"n","x":7.6,"y":324.1},{"c":9,"s":"n","x":1.3,"y":327.2},{"c":9,"s":"n","x":-3.6,"y":330.4},{"c":9,"s":"n","x":-7.4,"y":335.5},{"c":9,"s":"n","x":-9.2,"y":341.9},{"c":9,"s":"n","x":-9.8,"y":350.3},
{"c":10,"s":"n","x":-7.3,"y":346.6},{"c":10,"s":"n","x":-4.8,"y":351.7},{"c":10,"s":"n","x":0.7,"y":354.3},{"c":10,"s":"n","x":7.0,"y":354.9},{"c":10,"s":"n","x":13.8,"y":353.0},{"c":10,"s":"n","x":18.8,"y":348.6},{"c":10,"s":"n","x":20.6,"y":341.5},{"c":10,"s":"n","x":21.9,"y":333.9},{"c":10,"s":"n","x":23.7,"y":326.2},{"c":10,"s":"n","x":26.8,"y":321.1},{"c":10,"s":"n","x":31.8,"y":317.3},{"c":10,"s":"n","x":38.0,"y":314.7},{"c":10,"s":"n","x":44.2,"y":311.5},{"c":10,"s":"n","x":50.5,"y":305.8},{"c":10,"s":"n","x":56.7,"y":299.4},{"c":10,"s":"n","x":61.7,"y":293.0},{"c":10,"s":"n","x":65.4,"y":285.3},{"c":10,"s":"n","x":66.0,"y":278.3},{"c":10,"s":"n","x":62.9,"y":273.2},{"c":10,"s":"n","x":56.7,"y":271.3},{"c":10,"s":"n","x":50.5,"y":273.2},{"c":10,"s":"n","x":46.7,"y":277.7},{"c":10,"s":"n","x":44.2,"y":282.8},{"c":10,"s":"n","x":41.1,"y":289.2},{"c":10,"s":"n","x":37.4,"y":294.3},{"c":10,"s":"n","x":33.7,"y":299.4},{"c":10,"s":"n","x":30.0,"y":304.5},{"c":10,"s":"n","x":26.2,"y":309.6},{"c":10,"s":"n","x":22.5,"y":314.7},{"c":10,"s":"n","x":18.1,"y":319.8},{"c":10,"s":"n","x":13.2,"y":324.3},{"c":10,"s":"n","x":7.0,"y":327.5},{"c":10,"s":"n","x":0.7,"y":330.0},{"c":10,"s":"n","x":-4.2,"y":333.9},{"c":10,"s":"n","x":-6.7,"y":340.3},{"c":10,"s":"n","x":-7.3,"y":346.6},
{"c":11,"s":"n","x":-3.6,"y":344.1},{"c":11,"s":"n","x":-1.7,"y":349.2},{"c":11,"s":"n","x":3.2,"y":351.7},{"c":11,"s":"n","x":9.4,"y":351.5},{"c":11,"s":"n","x":15.7,"y":347.9},{"c":11,"s":"n","x":18.1,"y":341.5},{"c":11,"s":"n","x":16.9,"y":335.1},{"c":11,"s":"n","x":13.2,"y":331.3},{"c":11,"s":"n","x":8.2,"y":330.7},{"c":11,"s":"n","x":3.2,"y":331.3},{"c":11,"s":"n","x":-0.5,"y":333.9},{"c":11,"s":"n","x":-3.0,"y":339.0},{"c":11,"s":"n","x":-3.6,"y":344.1},
{"c":12,"s":"n","x":0.7,"y":342.8},{"c":12,"s":"n","x":3.2,"y":346.6},{"c":12,"s":"n","x":8.2,"y":347.9},{"c":12,"s":"n","x":12.6,"y":345.4},{"c":12,"s":"n","x":13.8,"y":340.3},{"c":12,"s":"n","x":11.9,"y":335.8},{"c":12,"s":"n","x":7.0,"y":335.1},{"c":12,"s":"n","x":2.6,"y":337.1},{"c":12,"s":"n","x":0.7,"y":340.3},{"c":12,"s":"n","x":0.7,"y":342.8},
{"c":13,"s":"n","x":4.5,"y":342.8},{"c":13,"s":"n","x":7.0,"y":344.7},{"c":13,"s":"n","x":10.1,"y":343.4},{"c":13,"s":"n","x":10.7,"y":339.6},{"c":13,"s":"n","x":7.6,"y":338.3},{"c":13,"s":"n","x":5.1,"y":339.6},{"c":13,"s":"n","x":4.5,"y":342.8},
{"c":14,"s":"n","x":27.4,"y":316.0},{"c":14,"s":"n","x":33.7,"y":313.4},{"c":14,"s":"n","x":41.1,"y":309.6},{"c":14,"s":"n","x":47.3,"y":304.5},{"c":14,"s":"n","x":53.5,"y":298.1},{"c":14,"s":"n","x":58.5,"y":291.7},{"c":14,"s":"n","x":61.0,"y":284.1},{"c":14,"s":"n","x":59.8,"y":277.7},{"c":14,"s":"n","x":54.8,"y":276.4},{"c":14,"s":"n","x":49.8,"y":279.0},{"c":14,"s":"n","x":47.3,"y":284.1},{"c":14,"s":"n","x":44.8,"y":289.2},{"c":14,"s":"n","x":41.1,"y":294.3},{"c":14,"s":"n","x":37.4,"y":299.4},{"c":14,"s":"n","x":33.7,"y":304.5},{"c":14,"s":"n","x":29.9,"y":309.0},{"c":14,"s":"n","x":26.8,"y":313.4},{"c":14,"s":"n","x":27.4,"y":316.0},
{"c":15,"s":"n","x":33.7,"y":308.3},{"c":15,"s":"n","x":41.1,"y":304.5},{"c":15,"s":"n","x":47.3,"y":299.4},{"c":15,"s":"n","x":52.3,"y":293.0},{"c":15,"s":"n","x":54.8,"y":286.6},{"c":15,"s":"n","x":54.2,"y":281.5},{"c":15,"s":"n","x":49.8,"y":281.5},{"c":15,"s":"n","x":47.3,"y":285.3},{"c":15,"s":"n","x":44.2,"y":290.4},{"c":15,"s":"n","x":40.5,"y":295.6},{"c":15,"s":"n","x":36.8,"y":300.7},{"c":15,"s":"n","x":33.7,"y":305.1},{"c":15,"s":"n","x":33.7,"y":308.3},
{"c":16,"s":"n","x":39.9,"y":300.7},{"c":16,"s":"n","x":44.8,"y":296.8},{"c":16,"s":"n","x":48.6,"y":291.7},{"c":16,"s":"n","x":50.4,"y":286.0},{"c":16,"s":"n","x":47.3,"y":284.7},{"c":16,"s":"n","x":44.2,"y":289.2},{"c":16,"s":"n","x":41.7,"y":293.0},{"c":16,"s":"n","x":39.3,"y":297.5},{"c":16,"s":"n","x":39.9,"y":300.7}
]
},
"concat": [
{"width": 428, "height": 287,
 "title": {"text": "Ψ\u00a0\u00a0\u00a0\u00a0\u00a0\u00a0\u00a0\u00a0\u00a0\u00a0\u00a0\u00a0\u00a0\u00a0\u00a0DJF", "subtitle": ["\u200b\u00a0\u00a0\u00a0\u00a0θ\u00a0\u00a0,mean", "\u200b\u00a0\u00a0\u00a0\u00a0\u00a0\u00a0e"], "dx": 141},
 "data": {"name": "p1"},
 "mark": {"type": "line", "clip": true, "color": "#111", "strokeWidth": 2.5},
 "encoding": {
  "x": {"field": "x", "type": "quantitative", "title": "latitude", "scale": {"domain": [-80, 80], "nice": false}, "axis": {"values": [-80, -60, -40, -20, 0, 20, 40, 60, 80]}},
  "y": {"field": "y", "type": "quantitative", "title": "equiv. potential temperature", "scale": {"domain": [260, 370], "nice": false, "zero": false}, "axis": {"values": [260, 280, 300, 320, 340, 360]}},
  "detail": {"field": "c", "type": "nominal"},
  "strokeDash": {"field": "s", "type": "nominal", "scale": {"domain": ["p", "n"], "range": [[1, 0], [10, 6]]}, "legend": null},
  "order": {"value": null}
 }
},
{"width": 428, "height": 287,
 "title": {"text": "Ψ\u00a0\u00a0\u00a0\u00a0\u00a0\u00a0\u00a0\u00a0\u00a0\u00a0\u00a0\u00a0\u00a0\u00a0DJF", "subtitle": ["\u200b\u00a0\u00a0\u00a0\u00a0θ\u00a0\u00a0,eddy", "\u200b\u00a0\u00a0\u00a0\u00a0\u00a0\u00a0e"], "dx": 142},
 "data": {"name": "p2"},
 "mark": {"type": "line", "clip": true, "color": "#111", "strokeWidth": 2.5},
 "encoding": {
  "x": {"field": "x", "type": "quantitative", "title": "latitude", "scale": {"domain": [-80, 80], "nice": false}, "axis": {"values": [-80, -60, -40, -20, 0, 20, 40, 60, 80]}},
  "y": {"field": "y", "type": "quantitative", "title": "equiv. potential temperature", "scale": {"domain": [260, 370], "nice": false, "zero": false}, "axis": {"values": [260, 280, 300, 320, 340, 360]}},
  "detail": {"field": "c", "type": "nominal"},
  "strokeDash": {"field": "s", "type": "nominal", "scale": {"domain": ["p", "n"], "range": [[1, 0], [10, 6]]}, "legend": null},
  "order": {"value": null}
 }
},
{"width": 428, "height": 287,
 "title": {"text": "Ψ\u00a0\u00a0\u00a0\u00a0\u00a0\u00a0\u00a0\u00a0\u00a0\u00a0\u00a0\u00a0\u00a0\u00a0\u00a0\u00a0DJF", "subtitle": ["\u200b\u00a0\u00a0\u00a0\u00a0θ\u00a0\u00a0,STEM", "\u200b\u00a0\u00a0\u00a0\u00a0\u00a0\u00a0e"], "dx": 138},
 "data": {"name": "p3"},
 "mark": {"type": "line", "clip": true, "color": "#111", "strokeWidth": 2.5},
 "encoding": {
  "x": {"field": "x", "type": "quantitative", "title": "latitude", "scale": {"domain": [-80, 80], "nice": false}, "axis": {"values": [-80, -60, -40, -20, 0, 20, 40, 60, 80]}},
  "y": {"field": "y", "type": "quantitative", "title": "equiv. potential temperature", "scale": {"domain": [260, 370], "nice": false, "zero": false}, "axis": {"values": [260, 280, 300, 320, 340, 360]}},
  "detail": {"field": "c", "type": "nominal"},
  "strokeDash": {"field": "s", "type": "nominal", "scale": {"domain": ["p", "n"], "range": [[1, 0], [10, 6]]}, "legend": null},
  "order": {"value": null}
 }
},
{"width": 428, "height": 287,
 "title": {"text": "Ψ\u00a0\u00a0\u00a0\u00a0\u00a0\u00a0\u00a0\u00a0DJF", "subtitle": ["\u200b\u00a0\u00a0\u00a0\u00a0θ", "\u200b\u00a0\u00a0\u00a0\u00a0\u00a0\u00a0e"], "dx": 160},
 "data": {"name": "p4"},
 "mark": {"type": "line", "clip": true, "color": "#111", "strokeWidth": 2.5},
 "encoding": {
  "x": {"field": "x", "type": "quantitative", "title": "latitude", "scale": {"domain": [-80, 80], "nice": false}, "axis": {"values": [-80, -60, -40, -20, 0, 20, 40, 60, 80]}},
  "y": {"field": "y", "type": "quantitative", "title": "equiv. potential temperature", "scale": {"domain": [260, 370], "nice": false, "zero": false}, "axis": {"values": [260, 280, 300, 320, 340, 360]}},
  "detail": {"field": "c", "type": "nominal"},
  "strokeDash": {"field": "s", "type": "nominal", "scale": {"domain": ["p", "n"], "range": [[1, 0], [10, 6]]}, "legend": null},
  "order": {"value": null}
 }
}
],
"config": {
 "font": "Liberation Sans",
 "background": "#ffffff",
 "view": {"stroke": "#000000", "strokeWidth": 1.5},
 "axis": {"domain": false, "ticks": true, "tickSize": -5, "tickColor": "#000000", "tickWidth": 1, "grid": true, "gridColor": "#666666", "gridDash": [1, 3], "gridWidth": 1, "gridOpacity": 0.8, "labelFont": "Liberation Sans", "labelFontSize": 24, "labelColor": "#111111", "titleFont": "Liberation Sans", "titleFontSize": 24, "titleFontWeight": "normal", "titleColor": "#111111"},
 "axisX": {"labelPadding": 14, "titlePadding": -4, "labelFlush": false, "labelOverlap": false},
 "axisY": {"labelPadding": 10, "titlePadding": 4, "labelOverlap": false},
 "title": {"anchor": "start", "frame": "group", "font": "Liberation Sans", "fontSize": 21, "fontWeight": "normal", "color": "#111111", "subtitleFont": "Liberation Sans", "subtitleFontSize": 19, "subtitleColor": "#111111", "subtitleLineHeight": 15, "subtitlePadding": -9, "offset": 7}
}
}
